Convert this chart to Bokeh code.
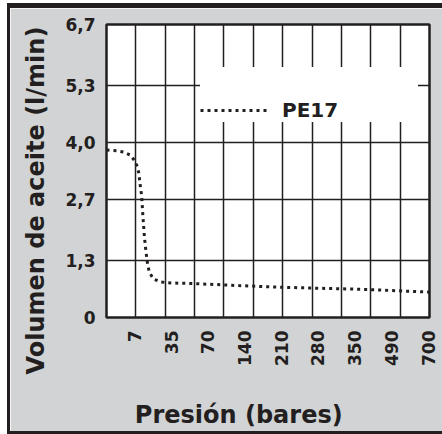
import math
from bokeh.plotting import figure
from bokeh.models import FixedTicker, Legend, LegendItem, Range1d, Title
from bokeh.embed import file_html
from bokeh.resources import INLINE

# ---- data ----
pressure_labels = ["7", "35", "70", "140", "210", "280", "350", "490", "700"]
y_ticks = [0, 1.3, 2.7, 4.0, 5.3, 6.7]
y_tick_labels = ["0", "1,3", "2,7", "4,0", "5,3", "6,7"]
# curve, x in grid-cell units (11 cells across the frame)
curve_x = [0, 0.35, 0.6, 0.82, 0.96, 1.05, 1.1, 1.16, 1.2, 1.24, 1.29, 1.35,
           1.41, 1.47, 1.6, 1.85, 2.2, 3.0, 4.5, 6.0, 7.5, 8.9, 11.0]
curve_y = [3.83, 3.81, 3.78, 3.71, 3.58, 3.45, 3.30, 2.96, 2.77, 2.31, 1.85, 1.47,
           1.17, 1.02, 0.88, 0.81, 0.79, 0.775, 0.73, 0.69, 0.665, 0.64, 0.58]
series_name = "PE17"
x_title = "Presión (bares)"
y_title = "Volumen de aceite (l/min)"

BLACK = "#231f20"
GRAY = "#d1d3d4"
FONT = "DejaVu Sans"
NBSP = "\u00a0"

n_cells = 11
label_pos = [round(0.95 + 1.25 * i, 2) for i in range(len(pressure_labels))]

p = figure(width=432, height=423, x_range=Range1d(0, n_cells), y_range=Range1d(0, 6.7),
           output_backend="svg", toolbar_location=None,
           min_border_left=96, min_border_right=13, min_border_top=16, min_border_bottom=113)
# outer dark frame drawn with shadows (does not change the layout size)
p.styles = {"margin-left": "10px", "margin-top": "8px",
            "box-shadow": ("0 -5px 0 0 {c}, -3px 0 0 0 {c}, 0 3px 0 0 {c}, "
                           "-3px -5px 0 0 {c}, -3px 3px 0 0 {c}").format(c=BLACK)}

p.background_fill_color = "white"
p.border_fill_color = GRAY
p.outline_line_color = BLACK
p.outline_line_width = 2.5

# axes
for ax in (p.xaxis[0], p.yaxis[0]):
    ax.axis_line_color = None
    ax.major_tick_line_color = None
    ax.minor_tick_line_color = None
    ax.major_tick_out = 0
    ax.major_tick_in = 0
    ax.major_label_text_font = FONT
    ax.major_label_text_font_style = "bold"
    ax.major_label_text_font_size = "17px"
    ax.major_label_text_color = BLACK
    ax.axis_label_text_font = FONT
    ax.axis_label_text_font_style = "bold"
    ax.axis_label_text_font_size = "24px"
    ax.axis_label_text_color = BLACK

p.xaxis.ticker = FixedTicker(ticks=label_pos)
p.xaxis.major_label_overrides = {pos: lab for pos, lab in zip(label_pos, pressure_labels)}
p.xaxis.major_label_orientation = math.pi / 2
p.xaxis.major_label_standoff = 13
p.xaxis.axis_label = x_title + NBSP * 7
p.xaxis.axis_label_standoff = 32

p.yaxis.ticker = FixedTicker(ticks=y_ticks)
p.yaxis.major_label_overrides = {t: lab for t, lab in zip(y_ticks, y_tick_labels)}
p.yaxis.major_label_standoff = 11

# vertical title (placed as a side title so it can sit lower than the frame centre)
p.add_layout(Title(text=y_title, align="left", offset=-57, vertical_align="top", standoff=22,
                   text_font=FONT, text_font_style="bold", text_font_size="24px",
                   text_color=BLACK), "left")

# grid
p.xgrid.ticker = FixedTicker(ticks=list(range(n_cells + 1)))
p.xgrid.grid_line_color = BLACK
p.xgrid.grid_line_width = 1.5
p.ygrid.grid_line_color = BLACK
p.ygrid.grid_line_width = 1.5

# curve
r = p.line(curve_x, curve_y, line_color=BLACK, line_width=3, line_dash="3 4")

legend = Legend(items=[LegendItem(label=series_name, renderers=[r])],
                location=(94, 195), padding=10, margin=0, spacing=0,
                glyph_width=68, glyph_height=24, label_height=24, label_width=136,
                label_standoff=14, title=NBSP, title_text_font_size="10px", title_standoff=20,
                background_fill_color="white", background_fill_alpha=1,
                border_line_color=None,
                label_text_font=FONT, label_text_font_style="bold",
                label_text_font_size="20px", label_text_color=BLACK)
p.add_layout(legend)

open("out.html", "w").write(file_html(p, INLINE))
